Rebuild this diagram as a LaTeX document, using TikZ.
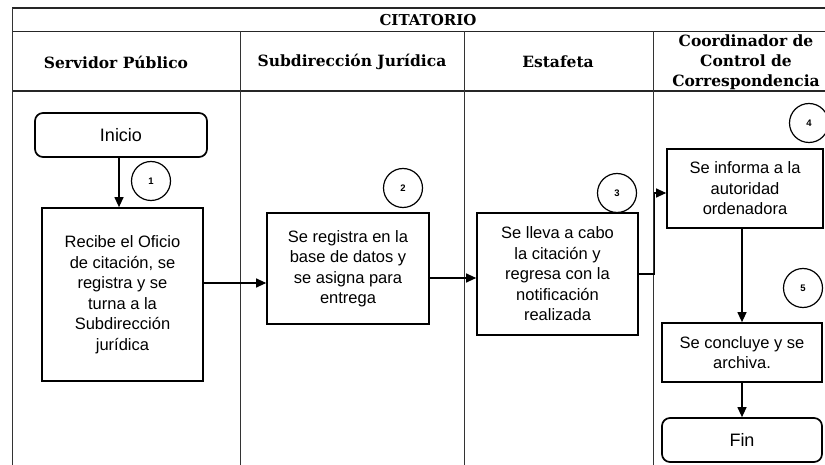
\documentclass[tikz,border=0pt]{standalone}
\usepackage{fontspec}
\setmainfont{Liberation Sans}
\newfontfamily\hdrfont{DejaVu Serif}
\usetikzlibrary{arrows.meta}
\begin{document}
\begin{tikzpicture}[x=1pt,y=-1pt,
  tbl/.style={line width=1.3pt,black!85},
  lane/.style={line width=1pt,black!80},
  hdr/.style={font=\hdrfont\bfseries\fontsize{15.5}{20}\selectfont,align=center,inner sep=0pt},
  procbox/.style={draw,line width=1.7pt,align=center,inner sep=0pt,
    font=\fontsize{16.5}{20.5}\selectfont},
  termbox/.style={draw,line width=1.7pt,rounded corners=8pt,inner sep=0pt,
    font=\fontsize{18}{21}\selectfont},
  stepnum/.style={draw,circle,line width=1.2pt,minimum size=39pt,inner sep=0pt,
    font=\bfseries\fontsize{9.5}{10}\selectfont},
  arr/.style={line width=1.2pt,-{Triangle[length=10pt,width=9pt]}}]
\useasboundingbox (0,0) rectangle (825,465);
\fill[white] (0,0) rectangle (825,465);
% table
\draw[tbl] (12,8) -- (825,8);
\draw[tbl] (12,31.5) -- (825,31.5);
\draw[tbl] (12,91) -- (825,91);
\draw[lane] (12,8) -- (12,465);
\draw[lane] (240,31.5) -- (240,465);
\draw[lane] (464,31.5) -- (464,465);
\draw[lane] (653,31.5) -- (653,465);
\node[hdr,font=\hdrfont\bfseries\fontsize{15}{18}\selectfont] (title) at (428,20) {CITATORIO};
\node[hdr] (h1) at (116,62) {Servidor Público};
\node[hdr] (h2) at (352,62) {Subdirección Jurídica};
\node[hdr] (h3) at (558,62) {Estafeta};
\node[hdr] (h4) at (746,62) {Coordinador de\\Control de\\Correspondencia};
% nodes
\node[termbox,minimum width=172pt,minimum height=44pt] (inicio) at (121,135) {Inicio};
\node[procbox,minimum width=161pt,minimum height=173pt] (b1) at (122.5,294.5)
  {Recibe el Oficio\\de citación, se\\registra y se\\turna a la\\Subdirección\\jurídica};
\node[procbox,minimum width=162pt,minimum height=111pt] (b2) at (348,268.5)
  {Se registra en la\\base de datos y\\se asigna para\\entrega};
\node[procbox,minimum width=161pt,minimum height=122pt] (b3) at (557.5,274)
  {Se lleva a cabo\\la citación y\\regresa con la\\notificación\\realizada};
\node[procbox,minimum width=156pt,minimum height=79pt] (b4) at (745,188.5)
  {Se informa a la\\autoridad\\ordenadora};
\node[procbox,minimum width=160pt,minimum height=59pt] (b5) at (742,352.5)
  {Se concluye y se\\archiva.};
\node[termbox,minimum width=160pt,minimum height=44pt] (fin) at (742,440) {Fin};
% step numbers
\node[stepnum] (n1) at (151,181) {1};
\node[stepnum] (n2) at (403,188) {2};
\node[stepnum] (n3) at (617,193) {3};
\node[stepnum] (n4) at (809,123) {4};
\node[stepnum] (n5) at (803,288) {5};
% connectors
\draw[arr] (inicio.south -| 119,0) -- (b1.north -| 119,0);
\draw[arr] (b1.east |- 0,283) -- (b2.west |- 0,283);
\draw[arr] (b2.east |- 0,278) -- (b3.west |- 0,278);
\draw[arr] (b3.east) -- ++(16,0) |- ([yshift=-4.5pt]b4.west);
\draw[arr] (b4.south -| 742,0) -- (b5.north);
\draw[arr] (b5.south) -- (fin.north);
\end{tikzpicture}
\end{document}
